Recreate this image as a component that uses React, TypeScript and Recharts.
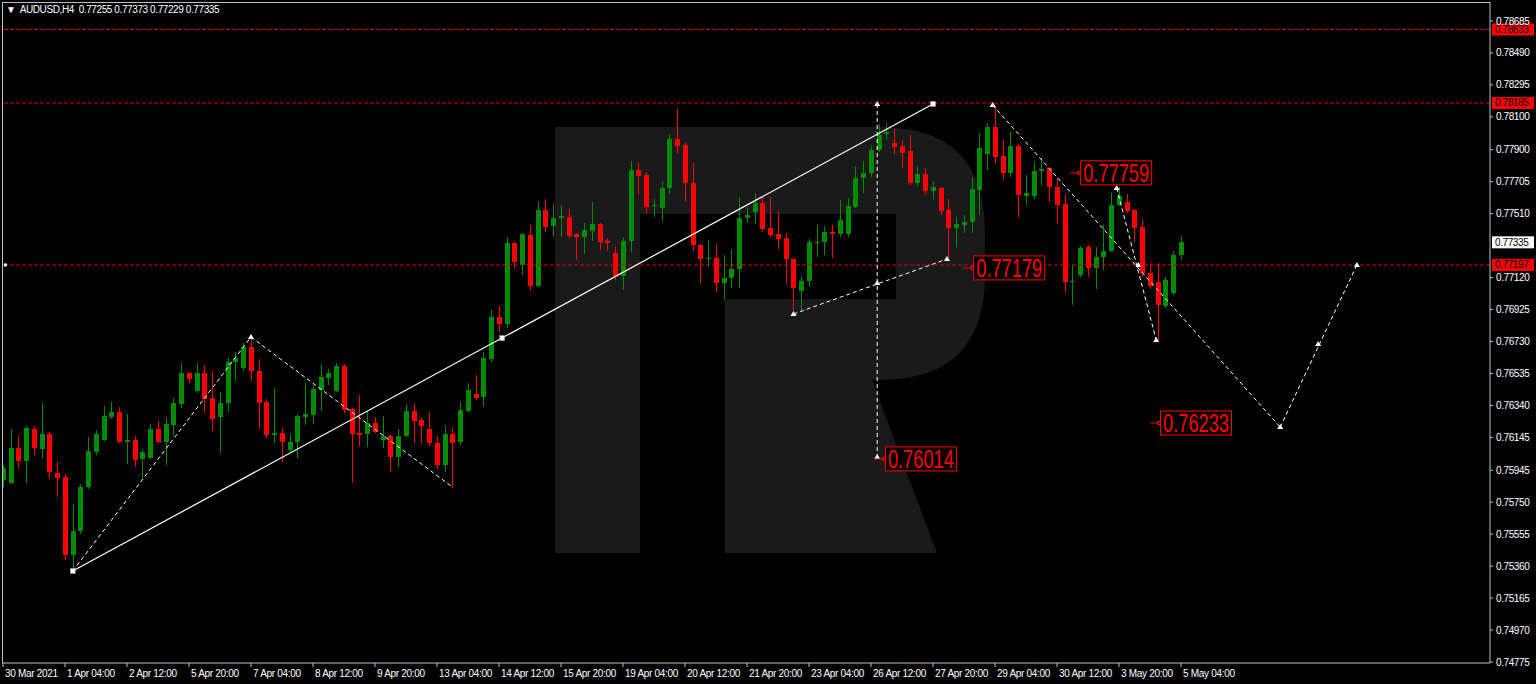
import React from 'react';
import {
  ComposedChart,
  Bar,
  Line,
  Scatter,
  XAxis,
  YAxis,
  ReferenceLine,
  ReferenceDot
} from 'recharts';

// AUDUSD H4 candles (bar 0 = 30 Mar, bar 152 = 5 May 04:00)
const opens = [
  0.75885, 0.75867, 0.76080, 0.76001, 0.76196, 0.76074, 0.76166, 0.75928, 0.75903, 0.75427,
  0.75574, 0.75842, 0.76056, 0.76129, 0.76269, 0.76300, 0.76117, 0.76129, 0.76013, 0.76019,
  0.76196, 0.76117, 0.76221, 0.76349, 0.76538, 0.76428, 0.76538, 0.76385, 0.76269, 0.76355,
  0.76605, 0.76568, 0.76696, 0.76550, 0.76361, 0.76160, 0.76172, 0.76068, 0.76117, 0.76269,
  0.76282, 0.76434, 0.76507, 0.76428, 0.76580, 0.76318, 0.76172, 0.76166, 0.76233, 0.76129,
  0.76153, 0.76025, 0.76153, 0.76306, 0.76251, 0.76196, 0.76111, 0.75976, 0.76166, 0.76117,
  0.76306, 0.76410, 0.76391, 0.76623, 0.76879, 0.76837, 0.77331, 0.77197, 0.77380, 0.77068,
  0.77532, 0.77434, 0.77483, 0.77489, 0.77386, 0.77367, 0.77404, 0.77447, 0.77343, 0.77270,
  0.77129, 0.77343, 0.77776, 0.77746, 0.77556, 0.77544, 0.77666, 0.77965, 0.77929, 0.77697,
  0.77319, 0.77233, 0.77239, 0.77087, 0.77117, 0.77172, 0.77483, 0.77520, 0.77575, 0.77422,
  0.77386, 0.77361, 0.77233, 0.77038, 0.77099, 0.77331, 0.77337, 0.77398, 0.77386, 0.77386,
  0.77550, 0.77727, 0.77758, 0.77898, 0.77996, 0.77941, 0.77922, 0.77892, 0.77697, 0.77752,
  0.77648, 0.77666, 0.77532, 0.77422, 0.77441, 0.77459, 0.77654, 0.77874, 0.78038, 0.77861,
  0.77758, 0.77922, 0.77617, 0.77617, 0.77770, 0.77788, 0.77672, 0.77569, 0.77093, 0.77136,
  0.77306, 0.77178, 0.77245, 0.77282, 0.77563, 0.77581, 0.77532, 0.77428, 0.77148, 0.77093,
  0.76946, 0.77026, 0.77255
];
const highs = [
  0.75976, 0.76196, 0.76160, 0.76214, 0.76214, 0.76355, 0.76178, 0.75995, 0.75922, 0.75739,
  0.75861, 0.76147, 0.76190, 0.76336, 0.76361, 0.76330, 0.76288, 0.76153, 0.76074, 0.76227,
  0.76245, 0.76263, 0.76385, 0.76599, 0.76544, 0.76599, 0.76580, 0.76550, 0.76422, 0.76629,
  0.76666, 0.76721, 0.76757, 0.76623, 0.76379, 0.76446, 0.76208, 0.76166, 0.76288, 0.76477,
  0.76465, 0.76593, 0.76562, 0.76599, 0.76593, 0.76324, 0.76403, 0.76306, 0.76269, 0.76275,
  0.76160, 0.76196, 0.76349, 0.76349, 0.76263, 0.76300, 0.76153, 0.76214, 0.76208, 0.76361,
  0.76477, 0.76526, 0.76666, 0.76922, 0.76946, 0.77367, 0.77337, 0.77392, 0.77441, 0.77581,
  0.77599, 0.77569, 0.77563, 0.77538, 0.77392, 0.77453, 0.77581, 0.77453, 0.77361, 0.77312,
  0.77367, 0.77831, 0.77819, 0.77758, 0.77599, 0.77709, 0.77996, 0.78148, 0.77941, 0.77819,
  0.77325, 0.77349, 0.77319, 0.77258, 0.77288, 0.77611, 0.77550, 0.77630, 0.77611, 0.77611,
  0.77526, 0.77392, 0.77233, 0.77129, 0.77355, 0.77441, 0.77434, 0.77441, 0.77593, 0.77605,
  0.77800, 0.77831, 0.77922, 0.78057, 0.78063, 0.78026, 0.77959, 0.77990, 0.77800, 0.77788,
  0.77709, 0.77672, 0.77599, 0.77489, 0.77502, 0.77727, 0.78002, 0.78063, 0.78166, 0.77959,
  0.78008, 0.77935, 0.77746, 0.77825, 0.77849, 0.77794, 0.77727, 0.77630, 0.77197, 0.77312,
  0.77319, 0.77306, 0.77441, 0.77636, 0.77672, 0.77630, 0.77538, 0.77477, 0.77209, 0.77209,
  0.77123, 0.77282, 0.77373
];
const lows = [
  0.75842, 0.75860, 0.75952, 0.75867, 0.76037, 0.76019, 0.75891, 0.75781, 0.75397, 0.75324,
  0.75556, 0.75830, 0.76037, 0.76123, 0.76257, 0.76111, 0.75983, 0.75964, 0.75897, 0.76013,
  0.76111, 0.75976, 0.76160, 0.76324, 0.76477, 0.76416, 0.76294, 0.76184, 0.76050, 0.76300,
  0.76489, 0.76544, 0.76489, 0.76196, 0.76141, 0.76111, 0.75995, 0.76050, 0.76019, 0.76221,
  0.76227, 0.76306, 0.76465, 0.76422, 0.76294, 0.75867, 0.76092, 0.76086, 0.76172, 0.76080,
  0.75934, 0.75964, 0.76147, 0.76111, 0.76111, 0.76092, 0.75952, 0.75934, 0.75836, 0.76099,
  0.76300, 0.76373, 0.76336, 0.76605, 0.76788, 0.76812, 0.77178, 0.77136, 0.77044, 0.77062,
  0.77398, 0.77367, 0.77367, 0.77361, 0.77227, 0.77264, 0.77343, 0.77288, 0.77282, 0.77105,
  0.77044, 0.77276, 0.77624, 0.77514, 0.77489, 0.77465, 0.77630, 0.77880, 0.77587, 0.77282,
  0.77087, 0.77184, 0.77032, 0.76983, 0.77056, 0.77056, 0.77453, 0.77453, 0.77398, 0.77367,
  0.77294, 0.77081, 0.76891, 0.76922, 0.77068, 0.77245, 0.77258, 0.77239, 0.77367, 0.77367,
  0.77544, 0.77636, 0.77733, 0.77886, 0.77959, 0.77874, 0.77788, 0.77685, 0.77678, 0.77624,
  0.77599, 0.77502, 0.77239, 0.77306, 0.77392, 0.77392, 0.77508, 0.77776, 0.77819, 0.77721,
  0.77733, 0.77489, 0.77563, 0.77599, 0.77685, 0.77581, 0.77453, 0.77026, 0.76953, 0.77123,
  0.77123, 0.77050, 0.77166, 0.77276, 0.77556, 0.77514, 0.77337, 0.77123, 0.77050, 0.76745,
  0.76934, 0.77013, 0.77229
];
const closes = [
  0.75958, 0.76080, 0.76001, 0.76202, 0.76080, 0.76166, 0.75934, 0.75897, 0.75427, 0.75574,
  0.75842, 0.76062, 0.76166, 0.76275, 0.76300, 0.76117, 0.76129, 0.76007, 0.76056, 0.76196,
  0.76117, 0.76227, 0.76355, 0.76538, 0.76501, 0.76538, 0.76379, 0.76257, 0.76355, 0.76605,
  0.76629, 0.76696, 0.76550, 0.76355, 0.76160, 0.76172, 0.76117, 0.76117, 0.76275, 0.76288,
  0.76440, 0.76513, 0.76538, 0.76580, 0.76312, 0.76166, 0.76160, 0.76233, 0.76178, 0.76153,
  0.76025, 0.76153, 0.76306, 0.76245, 0.76214, 0.76111, 0.75976, 0.76166, 0.76111, 0.76312,
  0.76434, 0.76385, 0.76629, 0.76879, 0.76837, 0.77331, 0.77215, 0.77386, 0.77068, 0.77532,
  0.77428, 0.77483, 0.77495, 0.77373, 0.77367, 0.77410, 0.77447, 0.77337, 0.77331, 0.77129,
  0.77343, 0.77776, 0.77739, 0.77550, 0.77563, 0.77666, 0.77965, 0.77922, 0.77697, 0.77319,
  0.77233, 0.77239, 0.77087, 0.77117, 0.77172, 0.77483, 0.77502, 0.77575, 0.77416, 0.77380,
  0.77355, 0.77233, 0.77056, 0.77099, 0.77337, 0.77337, 0.77398, 0.77386, 0.77471, 0.77556,
  0.77727, 0.77758, 0.77898, 0.77990, 0.78008, 0.77916, 0.77880, 0.77697, 0.77752, 0.77648,
  0.77672, 0.77526, 0.77422, 0.77447, 0.77459, 0.77660, 0.77910, 0.78038, 0.77855, 0.77758,
  0.77922, 0.77624, 0.77636, 0.77770, 0.77782, 0.77672, 0.77563, 0.77093, 0.77099, 0.77300,
  0.77178, 0.77245, 0.77282, 0.77563, 0.77617, 0.77526, 0.77422, 0.77148, 0.77068, 0.76953,
  0.77105, 0.77258, 0.77335
];

const timeLabels = [
  '30 Mar 2021', '1 Apr 04:00', '2 Apr 12:00', '5 Apr 20:00', '7 Apr 04:00', '8 Apr 12:00',
  '9 Apr 20:00', '13 Apr 04:00', '14 Apr 12:00', '15 Apr 20:00', '19 Apr 04:00', '20 Apr 12:00',
  '21 Apr 20:00', '23 Apr 04:00', '26 Apr 12:00', '27 Apr 20:00', '29 Apr 04:00', '30 Apr 12:00',
  '3 May 20:00', '5 May 04:00'
];
const timeTicks = timeLabels.map((_, i) => i * 8);

const priceTicks = [
  0.78685, 0.7849, 0.78295, 0.781, 0.779, 0.77705, 0.7751, 0.7712, 0.76925, 0.7673,
  0.76535, 0.7634, 0.76145, 0.75945, 0.7575, 0.75555, 0.7536, 0.75165, 0.7497, 0.74775
];

// horizontal levels (red dashed) and the last price
const levels = [0.78633, 0.78185, 0.77197];
const lastPrice = 0.77335;

// analysis drawings, x = bar index
const trendLine = [{ x: 9, y: 0.7533 }, { x: 120, y: 0.78179 }];
const zigzag = [{ x: 9, y: 0.7533 }, { x: 32, y: 0.76757 }, { x: 58, y: 0.75842 }];
const targetDrop = [{ x: 112.8, y: 0.78179 }, { x: 112.8, y: 0.76025 }];
const riseLeg = [{ x: 102, y: 0.76898 }, { x: 121.8, y: 0.77233 }];
const fallLeg = [{ x: 127.7, y: 0.78172 }, { x: 164.8, y: 0.76208 }];
const steepLeg = [{ x: 143.7, y: 0.77666 }, { x: 148.8, y: 0.76739 }];
const forecastLeg = [{ x: 164.8, y: 0.76208 }, { x: 174.7, y: 0.77197 }];

const arrowMarks = [
  { x: 32, y: 0.76757 }, { x: 112.8, y: 0.78179 }, { x: 112.8, y: 0.77087 },
  { x: 112.8, y: 0.76025 }, { x: 102, y: 0.76898 }, { x: 121.8, y: 0.77233 },
  { x: 127.7, y: 0.78172 }, { x: 143.7, y: 0.77666 }, { x: 146.5, y: 0.77197 },
  { x: 148.8, y: 0.76739 }, { x: 164.8, y: 0.76208 }, { x: 169.7, y: 0.76715 },
  { x: 174.7, y: 0.77197 }
];
const squareMarks = [{ x: 9, y: 0.7533 }, { x: 64.4, y: 0.76751 }, { x: 120, y: 0.78179 }];
const lineAnchors = [{ x: 0.3, y: 0.77197 }];

const priceTexts = [
  { x: 112.5, y: 0.76014, text: '0.76014' },
  { x: 123.9, y: 0.77179, text: '0.77179' },
  { x: 137.7, y: 0.77759, text: '0.77759' },
  { x: 148, y: 0.76233, text: '0.76233' }
];

const candles = opens.map((o, i) => ({
  x: i,
  open: o,
  high: highs[i],
  low: lows[i],
  close: closes[i]
}));

const UP = '#008c00';
const DOWN = '#ff0000';
const LEVEL = '#e00000';
const FONT = '"Liberation Sans", Arial, sans-serif';

const Candle = (props: any) => {
  const { x, y, width, height, payload } = props;
  const { open, close, high, low } = payload;
  const color = close >= open ? UP : DOWN;
  const k = height / (high - low || 1);
  const yo = y + (high - open) * k;
  const yc = y + (high - close) * k;
  const cx = Math.round(x + width / 2) + 0.5;
  const top = Math.round(Math.min(yo, yc));
  const h = Math.max(1, Math.round(Math.abs(yo - yc)));
  return (
    <g>
      <line x1={cx} x2={cx} y1={y} y2={y + height} stroke={color} strokeWidth={1} />
      <rect x={cx - 2.5} y={top} width={5} height={h} fill={color} />
    </g>
  );
};

const Arrow = ({ cx, cy }: any) => (
  <path d={`M${cx - 3},${cy + 2} L${cx},${cy - 3} L${cx + 3},${cy + 2} Z`} fill="#fff" />
);

const Square = ({ cx, cy }: any) => (
  <rect x={cx - 2.5} y={cy - 2.5} width={5} height={5} fill="#fff" stroke="#999" strokeWidth={0.5} />
);

const SmallSquare = ({ cx, cy }: any) => (
  <rect x={cx - 1.5} y={cy - 1.5} width={3} height={3} fill="#fff" />
);

const TimeTick = ({ x, y, payload }: any) => (
  <text x={x + 2} y={y + 8} fill="#fff" fontSize={10} letterSpacing={-0.3} fontFamily={FONT} textAnchor="start">
    {timeLabels[payload.value / 8]}
  </text>
);

const PriceTick = ({ x, y, payload }: any) => (
  <text x={x + 1} y={y + 3.5} fill="#fff" fontSize={10} letterSpacing={-0.4} fontFamily={FONT} textAnchor="start">
    {payload.value.toFixed(5)}
  </text>
);

const AxisTag = ({ viewBox, value, bg, fg }: any) => {
  const x = viewBox.x + viewBox.width + 2;
  const y = viewBox.y;
  return (
    <g>
      <rect x={x} y={y - 6} width={42} height={12} fill={bg} />
      <text x={x + 3} y={y + 3.5} fill={fg} fontSize={10} letterSpacing={-0.4} fontFamily={FONT}>
        {value}
      </text>
    </g>
  );
};

const PriceText = ({ cx, cy, text }: any) => (
  <g>
    <line x1={cx} x2={cx + 9} y1={cy} y2={cy} stroke={DOWN} strokeWidth={1} />
    <rect x={cx + 8} y={cy - 1.5} width={3} height={3} fill="none" stroke={DOWN} strokeWidth={1} />
    <rect x={cx + 10.5} y={cy - 12} width={71} height={24} fill="#000" stroke={DOWN} strokeWidth={1} />
    <text
      x={cx + 13}
      y={cy + 9}
      fill={DOWN}
      fontSize={25}
      fontFamily={FONT}
      textLength={66}
      lengthAdjust="spacingAndGlyphs"
    >
      {text}
    </text>
  </g>
);

const App: React.FC = () => {
  return (
    <div style={{ position: 'fixed', left: 0, top: 0, width: 1536, height: 684, background: '#000' }}>
      {/* watermark logo behind the chart */}
      <svg width={1536} height={684} style={{ position: 'absolute', left: 0, top: 0 }}>
        <path
          d="M555,127 H880 Q985,127 985,232 V275 Q985,380 880,380 H872 L937,553 H725 V299 H896 V214 H640 V553 H555 Z"
          fill="#1a1a1a"
        />
      </svg>
      <div style={{ position: 'absolute', left: 0, top: 0 }}>
        <ComposedChart
          width={1536}
          height={684}
          data={candles}
          margin={{ top: 2, right: 0, bottom: 0, left: 2 }}
        >
          <XAxis
            dataKey="x"
            type="number"
            domain={[-0.13, 191.87]}
            allowDataOverflow
            ticks={timeTicks}
            interval={0}
            height={21}
            stroke="#c0c0c0"
            tickSize={4}
            tick={<TimeTick />}
          />
          <YAxis
            orientation="right"
            type="number"
            domain={[0.74769, 0.78801]}
            allowDataOverflow
            ticks={priceTicks}
            interval={0}
            width={46}
            stroke="#c0c0c0"
            tickSize={3}
            tick={<PriceTick />}
          />
          {levels.map((lv) => (
            <ReferenceLine
              key={lv}
              y={lv}
              stroke={LEVEL}
              strokeDasharray="4 2"
              label={(p: any) => <AxisTag viewBox={p.viewBox} value={lv.toFixed(5)} bg="#ff0000" fg="#000" />}
            />
          ))}
          <ReferenceLine
            y={lastPrice}
            strokeOpacity={0}
            label={(p: any) => <AxisTag viewBox={p.viewBox} value={lastPrice.toFixed(5)} bg="#fff" fg="#000" />}
          />
          <Bar
            dataKey={(d: any) => [d.low, d.high]}
            barSize={5}
            shape={<Candle />}
            isAnimationActive={false}
          />
          <Line data={trendLine} dataKey="y" stroke="#fff" strokeWidth={1.2} dot={false} isAnimationActive={false} />
          {[zigzag, targetDrop, riseLeg, fallLeg, steepLeg, forecastLeg].map((seg, i) => (
            <Line
              key={i}
              data={seg}
              dataKey="y"
              stroke="#fff"
              strokeWidth={1}
              strokeDasharray="4 3"
              dot={false}
              isAnimationActive={false}
            />
          ))}
          <Scatter data={arrowMarks} dataKey="y" shape={<Arrow />} isAnimationActive={false} />
          <Scatter data={squareMarks} dataKey="y" shape={<Square />} isAnimationActive={false} />
          <Scatter data={lineAnchors} dataKey="y" shape={<SmallSquare />} isAnimationActive={false} />
          {priceTexts.map((t) => (
            <ReferenceDot
              key={t.text}
              x={t.x}
              y={t.y}
              r={0}
              shape={(p: any) => <PriceText cx={p.cx} cy={p.cy} text={t.text} />}
            />
          ))}
        </ComposedChart>
      </div>
      {/* frame left/top */}
      <div
        style={{
          position: 'absolute',
          left: 2,
          top: 2,
          width: 1488,
          height: 661,
          borderLeft: '1px solid #c0c0c0',
          borderTop: '1px solid #c0c0c0',
          boxSizing: 'border-box',
          pointerEvents: 'none'
        }}
      />
      <div
        style={{
          position: 'absolute',
          left: 6,
          top: 4,
          color: '#fff',
          fontFamily: FONT,
          fontSize: 10,
          letterSpacing: -0.4,
          whiteSpace: 'pre'
        }}
      >
        {'\u25BC  AUDUSD,H4  0.77255 0.77373 0.77229 0.77335'}
      </div>
    </div>
  );
};

export default App;
